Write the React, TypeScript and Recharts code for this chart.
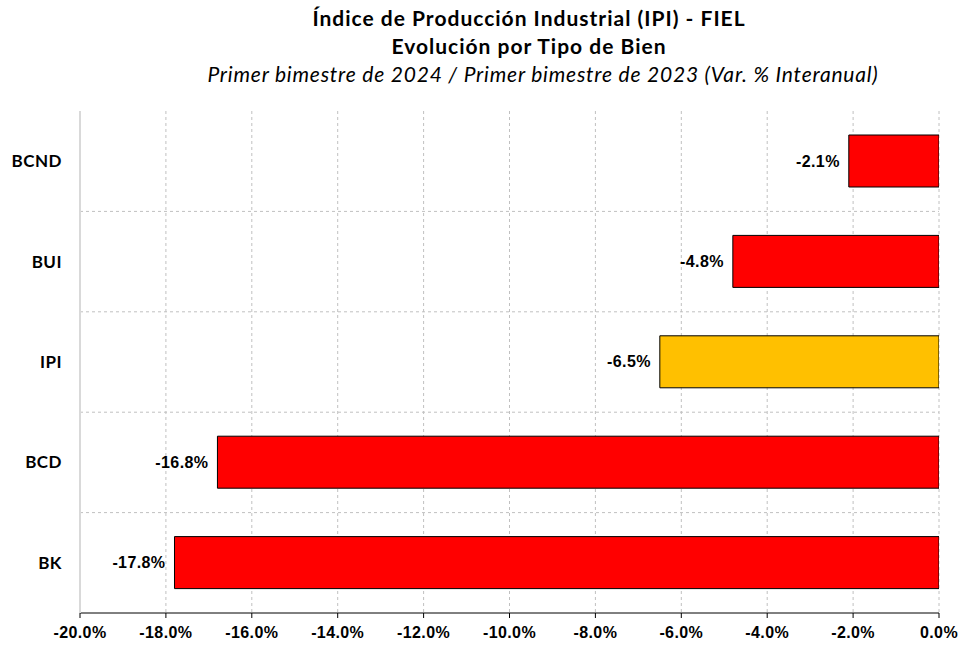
import { Bar, BarChart, CartesianGrid, Cell, LabelList, XAxis, YAxis } from 'recharts';

const categories = ['BCND', 'BUI', 'IPI', 'BCD', 'BK'];
const values = [-2.1, -4.8, -6.5, -16.8, -17.8];
const highlight = ['IPI'];
const xTicks = [-20, -18, -16, -14, -12, -10, -8, -6, -4, -2, 0];

const titleLines = [
  'Índice de Producción Industrial (IPI) - FIEL',
  'Evolución por Tipo de Bien',
];
const subtitle = 'Primer bimestre de 2024 / Primer bimestre de 2023 (Var. % Interanual)';

const data = categories.map((name, i) => ({ name, value: values[i] }));

const RED = '#FF0000';
const GOLD = '#FFC000';
const GRID = '#c0c0c0';
const BORDER = '#d9d9d9';

const pct = (v: number) => `${v.toFixed(1)}%`;

const titleFont = "Lato, 'Open Sans', sans-serif";
const numFont = "'Liberation Sans', Arial, sans-serif";

// label drawn to the left of the bar's left edge (bars are negative)
function ValueLabel(props: any) {
  const { x, y, width, height, value } = props;
  const left = Math.min(Number(x), Number(x) + Number(width));
  return (
    <text
      x={left - 9}
      y={Number(y) + Number(height) / 2}
      textAnchor="end"
      dominantBaseline="central"
      fill="#000"
      fontSize={16}
      fontWeight={700}
      fontFamily={numFont}
      letterSpacing={0.4}
    >
      {pct(Number(value))}
    </text>
  );
}

export default function App() {
  return (
    <div
      style={{
        position: 'absolute',
        left: 0,
        top: 0,
        width: 961,
        height: 647,
        background: '#fff',
        fontFamily: titleFont,
      }}
    >
      <div
        style={{
          position: 'absolute',
          left: 279,
          width: 500,
          top: 4,
          textAlign: 'center',
          fontWeight: 700,
          fontSize: 21,
          letterSpacing: 1,
          lineHeight: '28px',
          color: '#000',
        }}
      >
        {titleLines.map((t) => (
          <div key={t}>{t}</div>
        ))}
      </div>
      <div
        style={{
          position: 'absolute',
          left: 93,
          width: 900,
          top: 60,
          textAlign: 'center',
          fontStyle: 'italic',
          fontSize: 21,
          letterSpacing: 0.8,
          lineHeight: '28px',
          color: '#000',
        }}
      >
        {subtitle}
      </div>
      <BarChart
        width={961}
        height={647}
        data={data}
        layout="vertical"
        margin={{ top: 111, right: 22, bottom: 4, left: 0 }}
        barSize={52}
      >
        <CartesianGrid
          stroke={GRID}
          strokeDasharray="3 3"
          horizontalCoordinatesGenerator={({ offset }: any) => {
            const step = offset.height / categories.length;
            return categories.slice(1).map((_, i) => offset.top + step * (i + 1));
          }}
        />
        <XAxis
          type="number"
          dataKey="value"
          domain={[-20, 0]}
          ticks={xTicks}
          allowDataOverflow
          tickFormatter={pct}
          axisLine={{ stroke: '#000', strokeWidth: 1 }}
          tickLine={{ stroke: '#000' }}
          tickSize={5}
          tickMargin={9}
          tick={{ fill: '#000', fontSize: 16, fontWeight: 700, fontFamily: numFont, letterSpacing: 0.4 }}
        />
        <XAxis
          xAxisId="top"
          orientation="top"
          type="number"
          domain={[-20, 0]}
          height={0}
          tick={false}
          tickLine={false}
          axisLine={{ stroke: BORDER, strokeWidth: 2 }}
        />
        <YAxis
          type="category"
          dataKey="name"
          width={80}
          tickSize={0}
          tickMargin={18}
          axisLine={{ stroke: BORDER, strokeWidth: 2 }}
          tickLine={false}
          tick={{ fill: '#000', fontSize: 17, fontWeight: 700, fontFamily: titleFont, letterSpacing: 0.5 }}
        />
        <YAxis
          yAxisId="right"
          orientation="right"
          type="category"
          dataKey="name"
          width={0}
          mirror
          tickSize={5}
          tick={false}
          tickLine={{ stroke: '#000' }}
          axisLine={{ stroke: '#000', strokeWidth: 1.5 }}
        />
        <Bar dataKey="value" stroke="#000" strokeWidth={1} isAnimationActive={false}>
          {data.map((d) => (
            <Cell key={d.name} fill={highlight.includes(d.name) ? GOLD : RED} />
          ))}
          <LabelList dataKey="value" content={<ValueLabel />} />
        </Bar>
      </BarChart>
    </div>
  );
}
